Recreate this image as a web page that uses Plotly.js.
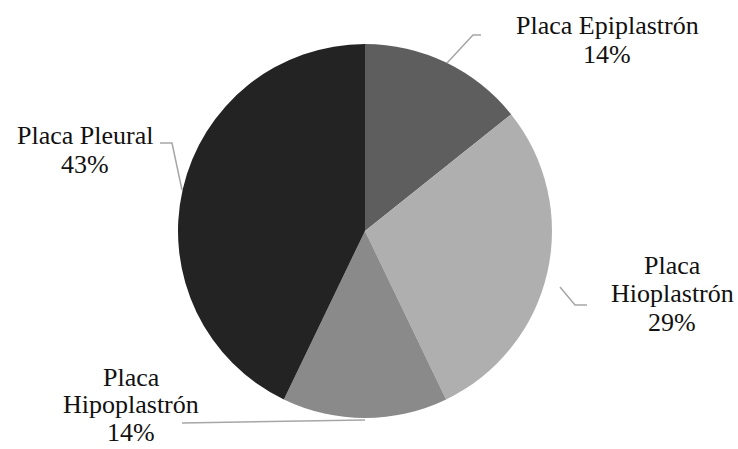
<!DOCTYPE html>
<html>
<head>
<meta charset="utf-8">
<script src="https://cdn.plot.ly/plotly-3.0.1.min.js"></script>
<style>html,body{margin:0;padding:0;background:#fff;}#chart{width:738px;height:449px;}</style>
</head>
<body>
<div id="chart"></div>
<script>
// Data
const labels = ["Placa Epiplastrón", "Placa Hioplastrón", "Placa Hipoplastrón", "Placa Pleural"];
const values = [1, 2, 1, 3];
const colors = ["#5e5e5e", "#afafaf", "#8a8a8a", "#232323"];
// How each label wraps in the picture
const labelLines = [
  ["Placa Epiplastrón"],
  ["Placa", "Hioplastrón"],
  ["Placa", "Hipoplastrón"],
  ["Placa Pleural"]
];

const W = 738, H = 449;
const total = values.reduce((a, b) => a + b, 0);
const pct = values.map(v => Math.round(v / total * 100) + "%");

// layout: centre x, first-line centre y and line spacing of each label block (pixels)
const labelPos = [
  {x: 607, y: 26, dy: 28.6},
  {x: 672, y: 265, dy: 28.6},
  {x: 131, y: 377, dy: 27.5},
  {x: 85, y: 136, dy: 28.6}
];
const leaders = [
  [[447, 63], [473, 35], [481, 35]],
  [[560, 287], [575, 305], [587, 305]],
  [[365, 420], [182, 423]],
  [[182, 190], [172, 143], [160, 143]]
];
const px = x => x / W, py = y => 1 - y / H;
const FONT = "Liberation Serif, Times New Roman, serif";

const annotations = [];
labels.forEach((l, i) => {
  labelLines[i].concat([pct[i]]).forEach((t, k) => {
    annotations.push({
      x: px(labelPos[i].x), y: py(labelPos[i].y + k * labelPos[i].dy),
      xref: "paper", yref: "paper", text: t,
      showarrow: false, xanchor: "center", yanchor: "middle", align: "center",
      borderpad: 0,
      font: {family: FONT, size: 26, color: "#111"}
    });
  });
});

const shapes = leaders.map(pts => ({
  type: "path", xref: "paper", yref: "paper",
  path: pts.map((p, j) => (j ? "L" : "M") + px(p[0]) + "," + py(p[1])).join(" "),
  line: {color: "#a6a6a6", width: 1.5}
}));

const cx = 365, cy = 231, r = 187;
const data = [{
  type: "pie",
  labels: labels,
  values: values,
  sort: false,
  direction: "clockwise",
  rotation: 0,
  marker: {colors: colors, line: {width: 0}},
  textinfo: "none",
  domain: {x: [px(cx - r), px(cx + r)], y: [py(cy + r), py(cy - r)]},
  showlegend: false
}];

const layout = {
  width: W, height: H,
  margin: {l: 0, r: 0, t: 0, b: 0},
  paper_bgcolor: "#fff",
  font: {family: FONT},
  showlegend: false,
  annotations: annotations,
  shapes: shapes
};

Plotly.newPlot("chart", data, layout, {displayModeBar: false, staticPlot: true});
</script>
</body>
</html>
